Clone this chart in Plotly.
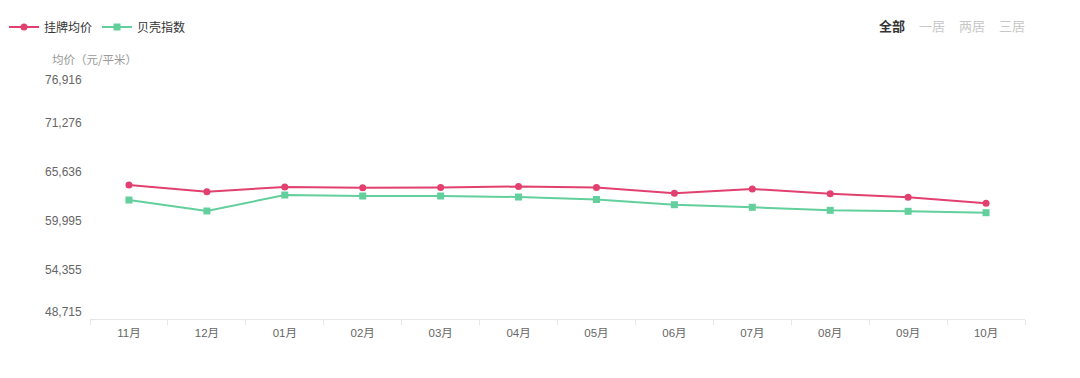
import plotly.graph_objects as go

months = ["11月", "12月", "01月", "02月", "03月", "04月", "05月", "06月", "07月", "08月", "09月", "10月"]
listing_avg = [64138, 63367, 63908, 63828, 63840, 63966, 63851, 63183, 63678, 63137, 62723, 62032]
beike_index = [62412, 61146, 62987, 62872, 62872, 62757, 62469, 61871, 61572, 61226, 61111, 60950]
y_ticks = [48715, 54355, 59995, 65636, 71276, 76916]
y_tick_text = ["48,715", "54,355", "59,995", "65,636", "71,276", "76,916"]
series_names = ["挂牌均价", "贝壳指数"]
tabs = ["全部", "一居", "两居", "三居"]

RED = "#e2406f"
GREEN = "#62cf9c"
FONT = "Liberation Sans, Noto Sans CJK SC, sans-serif"
CJK = "Noto Sans CJK SC, sans-serif"

L, R, T, B = 90, 55, 74, 59
W, H = 1080, 378
pw = W - L - R
ph = H - T - B


def px_x(px):
    return (px - L) / pw


def px_y(py):
    return 1 - (py - T) / ph


fig = go.Figure()
fig.add_trace(go.Scatter(
    x=months, y=listing_avg, name=series_names[0], mode="lines+markers",
    line=dict(color=RED, width=2), marker=dict(symbol="circle", size=7, color=RED)))
fig.add_trace(go.Scatter(
    x=months, y=beike_index, name=series_names[1], mode="lines+markers",
    line=dict(color=GREEN, width=2), marker=dict(symbol="square", size=7, color=GREEN)))

annotations = []
for i, (v, t) in enumerate(zip(y_ticks, y_tick_text)):
    shift = 0
    if i == 0:
        shift = 7
    elif i == len(y_ticks) - 1:
        shift = -6
    annotations.append(dict(
        x=0, xref="paper", y=v, yref="y", text=t, showarrow=False,
        xanchor="right", yanchor="middle", xshift=-6, yshift=shift,
        font=dict(family=FONT, size=12, color="#666666")))

# axis title
annotations.append(dict(
    x=px_x(50), xref="paper", y=px_y(59), yref="paper", text="均价（元/平米）",
    showarrow=False, xanchor="left", yanchor="middle",
    font=dict(family=CJK, size=11.5, color="#999999")))

tab_x = [892, 932, 972, 1012]
for j, (t, xx) in enumerate(zip(tabs, tab_x)):
    annotations.append(dict(
        x=px_x(xx), xref="paper", y=px_y(25), yref="paper",
        text=("<b>%s</b>" % t) if j == 0 else t,
        showarrow=False, xanchor="center", yanchor="middle",
        font=dict(family=CJK, size=13, color="#333333" if j == 0 else "#c8c8c8")))

fig.update_layout(
    width=W, height=H,
    margin=dict(l=L, r=R, t=T, b=B),
    paper_bgcolor="white", plot_bgcolor="white",
    font=dict(family=FONT, size=12, color="#666666"),
    showlegend=True,
    legend=dict(
        orientation="h", xref="container", yref="container",
        x=4 / W, y=1 - 27 / H, xanchor="left", yanchor="middle",
        font=dict(family=CJK, size=12, color="#333333"),
        itemwidth=30, tracegroupgap=0, bgcolor="rgba(0,0,0,0)"),
    annotations=annotations,
    xaxis=dict(
        type="category", showgrid=False, zeroline=False,
        showline=True, linecolor="#e6e6e6", linewidth=1,
        ticks="outside", tickson="boundaries", ticklen=5, tickcolor="#e6e6e6",
        tickfont=dict(family=FONT, size=11.5, color="#666666"),
        ticklabelstandoff=3,
        range=[-0.5, len(months) - 0.5]),
    yaxis=dict(
        range=[y_ticks[0], y_ticks[-1]], tickvals=y_ticks, showticklabels=False,
        showgrid=False, zeroline=False, showline=False, ticks=""),
)

fig.write_html("out.html", config={"displayModeBar": False},
               post_script="document.body.style.margin='0';")
